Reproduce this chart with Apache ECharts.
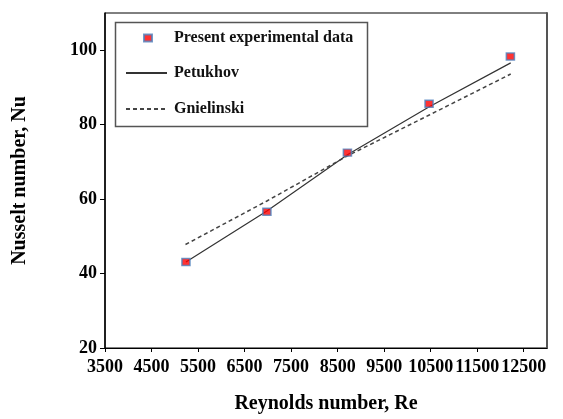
<!DOCTYPE html>
<html>
<head>
<meta charset="utf-8">
<script src="https://cdn.jsdelivr.net/npm/echarts@6/dist/echarts.min.js"></script>
<style>
  html, body { margin: 0; padding: 0; background: #fff; }
  #chart { width: 563px; height: 419px; }
</style>
</head>
<body>
<div id="chart"></div>
<script>
// Measured Nusselt numbers against Reynolds number
const expRe = [5240, 6980, 8710, 10465, 12213];
const expNu = [43.1, 56.6, 72.5, 85.6, 98.3];

// Correlation curves evaluated over the test range
const petukhovRe = [5240, 6980, 8710, 10470, 12220];
const petukhovNu = [43.1, 56.8, 71.9, 84.8, 96.6];
const gnielinskiRe = [5230, 6980, 8710, 10470, 12220];
const gnielinskiNu = [47.8, 59.5, 71.6, 82.6, 93.6];

// Tick labels
const xTicks = [3500, 4500, 5500, 6500, 7500, 8500, 9500, 10500, 11500, 12500];
const yTicks = [20, 40, 60, 80, 100];

const pairs = (xs, ys) => xs.map((x, i) => [x, ys[i]]);
const FONT = 'Liberation Serif';

const chart = echarts.init(document.getElementById('chart'), null, { renderer: 'canvas' });

const legendText = { fontFamily: FONT, fontWeight: 'bold', fontSize: 16, color: '#111' };

chart.setOption({
  backgroundColor: '#fff',
  animation: false,
  grid: {
    left: 105, right: 16, top: 13, bottom: 67.5,
    show: true, borderColor: '#000', borderWidth: 1
  },
  xAxis: {
    type: 'value',
    min: 3500, max: 13000,
    name: 'Reynolds number, Re',
    nameLocation: 'middle',
    nameGap: 46,
    nameTextStyle: { fontFamily: FONT, fontWeight: 'bold', fontSize: 20, color: '#000' },
    splitLine: { show: false },
    axisLine: { lineStyle: { color: '#000', width: 1.2 } },
    axisTick: { customValues: xTicks, length: 4, lineStyle: { color: '#000' } },
    axisLabel: {
      customValues: xTicks, margin: 10, hideOverlap: false,
      formatter: v => String(v),
      fontFamily: FONT, fontWeight: 'bold', fontSize: 18, color: '#000'
    }
  },
  yAxis: [{
    type: 'value',
    min: 20, max: 110,
    name: 'Nusselt number, Nu',
    nameLocation: 'middle',
    nameGap: 75,
    nameTextStyle: { fontFamily: FONT, fontWeight: 'bold', fontSize: 20, color: '#000' },
    splitLine: { show: false },
    axisLine: { show: true, lineStyle: { color: '#000', width: 1.5 } },
    axisTick: { show: true, customValues: yTicks, length: 5, lineStyle: { color: '#000' } },
    axisLabel: {
      customValues: yTicks, margin: 8,
      formatter: v => String(v),
      fontFamily: FONT, fontWeight: 'bold', fontSize: 18, color: '#000'
    }
  }, {
    type: 'value',
    position: 'right',
    min: 20, max: 110,
    splitLine: { show: false },
    axisLine: { show: true, lineStyle: { color: '#555', width: 2 } },
    axisTick: { show: false },
    axisLabel: { show: false }
  }],
  legend: [{
    data: ['Present experimental data'],
    left: 138, top: 25,
    itemWidth: 8, itemHeight: 7,
    icon: 'rect',
    textStyle: Object.assign({ padding: [0, 0, 0, 17] }, legendText)
  }, {
    data: ['Petukhov'],
    left: 120, top: 60,
    itemWidth: 41, itemHeight: 8,
    itemStyle: { opacity: 0 },
    textStyle: Object.assign({ padding: [0, 0, 0, 2] }, legendText)
  }, {
    data: ['Gnielinski'],
    left: 120, top: 96,
    itemWidth: 41, itemHeight: 8,
    itemStyle: { opacity: 0 },
    textStyle: Object.assign({ padding: [0, 0, 0, 2] }, legendText)
  }],
  graphic: [{
    type: 'rect',
    left: 113, top: 20,
    shape: { width: 252, height: 104 },
    style: { fill: 'none', stroke: '#555', lineWidth: 1.5 },
    z: 10
  }],
  series: [{
    name: 'Petukhov',
    type: 'line',
    data: pairs(petukhovRe, petukhovNu),
    showSymbol: false,
    symbol: 'none',
    lineStyle: { color: '#333', width: 1.2, type: 'solid' },
    z: 2
  }, {
    name: 'Gnielinski',
    type: 'line',
    data: pairs(gnielinskiRe, gnielinskiNu),
    showSymbol: false,
    symbol: 'none',
    lineStyle: { color: '#444', width: 1.5, type: [4, 3] },
    z: 2
  }, {
    name: 'Present experimental data',
    type: 'scatter',
    data: pairs(expRe, expNu),
    symbol: 'rect',
    symbolSize: [8, 7],
    itemStyle: { color: '#ff0000', borderColor: '#4f81bd', borderWidth: 1.5 },
    z: 5
  }]
});
</script>
</body>
</html>
